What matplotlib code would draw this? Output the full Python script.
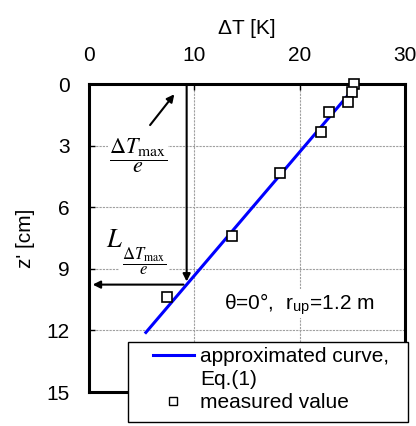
import numpy as np
import matplotlib
matplotlib.use('Agg')
import matplotlib.pyplot as plt
from matplotlib.lines import Line2D
from matplotlib.patches import Rectangle

plt.rcParams['font.family'] = ['Liberation Sans', 'DejaVu Sans']
plt.rcParams['mathtext.fontset'] = 'stix'

# measured temperature rise vs depth
dT_meas = [25.2, 25.0, 24.6, 22.8, 22.0, 18.1, 13.6, 7.4]
z_meas = [0.0, 0.4, 0.9, 1.37, 2.35, 4.35, 7.4, 10.35]

# approximated curve, Eq.(1)
dT_fit = [25.5, 5.4]
z_fit = [0.0, 12.1]

x_ticks = [0, 10, 20, 30]
y_ticks = [0, 3, 6, 9, 12, 15]

fig = plt.figure(figsize=(4.16, 4.26), dpi=100)
ax = fig.add_axes([89 / 416, 1 - 392 / 426, 316 / 416, 308 / 426])

ax.set_xlim(0, 30)
ax.set_ylim(15, 0)
ax.set_xticks(x_ticks)
ax.set_yticks(y_ticks)
ax.xaxis.tick_top()
ax.xaxis.set_label_position('top')
ax.tick_params(axis='x', direction='in', length=4, width=1, pad=13.5, labelsize=15)
ax.tick_params(axis='y', direction='in', length=4, width=1, pad=14, labelsize=15)
ax.set_xlabel('ΔT [K]', fontsize=15, labelpad=9)
ax.set_ylabel("z' [cm]", fontsize=15, labelpad=8)
for s in ax.spines.values():
    s.set_linewidth(2.2)
ax.grid(True, color='#a0a0a0', linestyle=(0, (2, 1)), linewidth=0.8)
ax.set_axisbelow(True)

ax.plot(dT_fit, z_fit, color='#0000ff', lw=2.2, zorder=3)
ax.plot(dT_meas, z_meas, linestyle='none', marker='s', markersize=7.8,
        markerfacecolor='white', markeredgecolor='black', markeredgewidth=1.2,
        zorder=4, clip_on=False)

# dT_max / e and the depth where the curve reaches it
x_e = dT_meas[0] / np.e
z_L = np.interp(x_e, dT_fit[::-1], z_fit[::-1])

arrow = dict(arrowstyle='-|>', mutation_scale=11, lw=1.5, color='black',
             shrinkA=0, shrinkB=0)
ax.annotate('', xy=(x_e, z_L - 0.15), xytext=(x_e, 0), arrowprops=arrow, zorder=5)
ax.annotate('', xy=(0.35, z_L), xytext=(x_e - 0.3, z_L), arrowprops=arrow, zorder=5)
ax.annotate('', xy=(8.1, 0.5), xytext=(5.8, 2.0), arrowprops=arrow, zorder=5)

ax.text(4.65, 3.5, r'$\dfrac{\Delta T_{\mathrm{max}}}{e}$', fontsize=16,
        ha='center', va='center', zorder=5,
        bbox=dict(facecolor='white', edgecolor='none', pad=1))
ax.text(5.2, 8.64, r'$\dfrac{\Delta T_{\mathrm{max}}}{e}$', fontsize=12,
        ha='center', va='center', zorder=5,
        bbox=dict(facecolor='white', edgecolor='none', pad=2))
ax.text(2.45, 7.6, r'$L$', fontsize=19,
        ha='center', va='center', zorder=5)

ax.text(20.0, 10.7, r'θ=0°,  r$_\mathregular{up}$=1.2 m', fontsize=15,
        ha='center', va='center', zorder=5,
        bbox=dict(facecolor='white', edgecolor='none', pad=1))

# legend box
fig.patches.append(Rectangle((128 / 416, 1 - 422 / 426), 280 / 416, 80 / 426,
                             transform=fig.transFigure, facecolor='white',
                             edgecolor='black', lw=1, zorder=4))
handles = [Line2D([], [], color='#0000ff', lw=2.2),
           Line2D([], [], linestyle='none'),
           Line2D([], [], linestyle='none', marker='s', markersize=6,
                  markerfacecolor='white', markeredgecolor='black', markeredgewidth=1)]
labels = ['approximated curve,', 'Eq.(1)', 'measured value']
fig.legend(handles, labels, loc='upper left', bbox_to_anchor=(153 / 416, 1 - 347 / 426),
           frameon=False, borderpad=0, borderaxespad=0, fontsize=15,
           handlelength=1.95, handletextpad=0.3, labelspacing=0.2)

fig.savefig('out.png', dpi=100)
